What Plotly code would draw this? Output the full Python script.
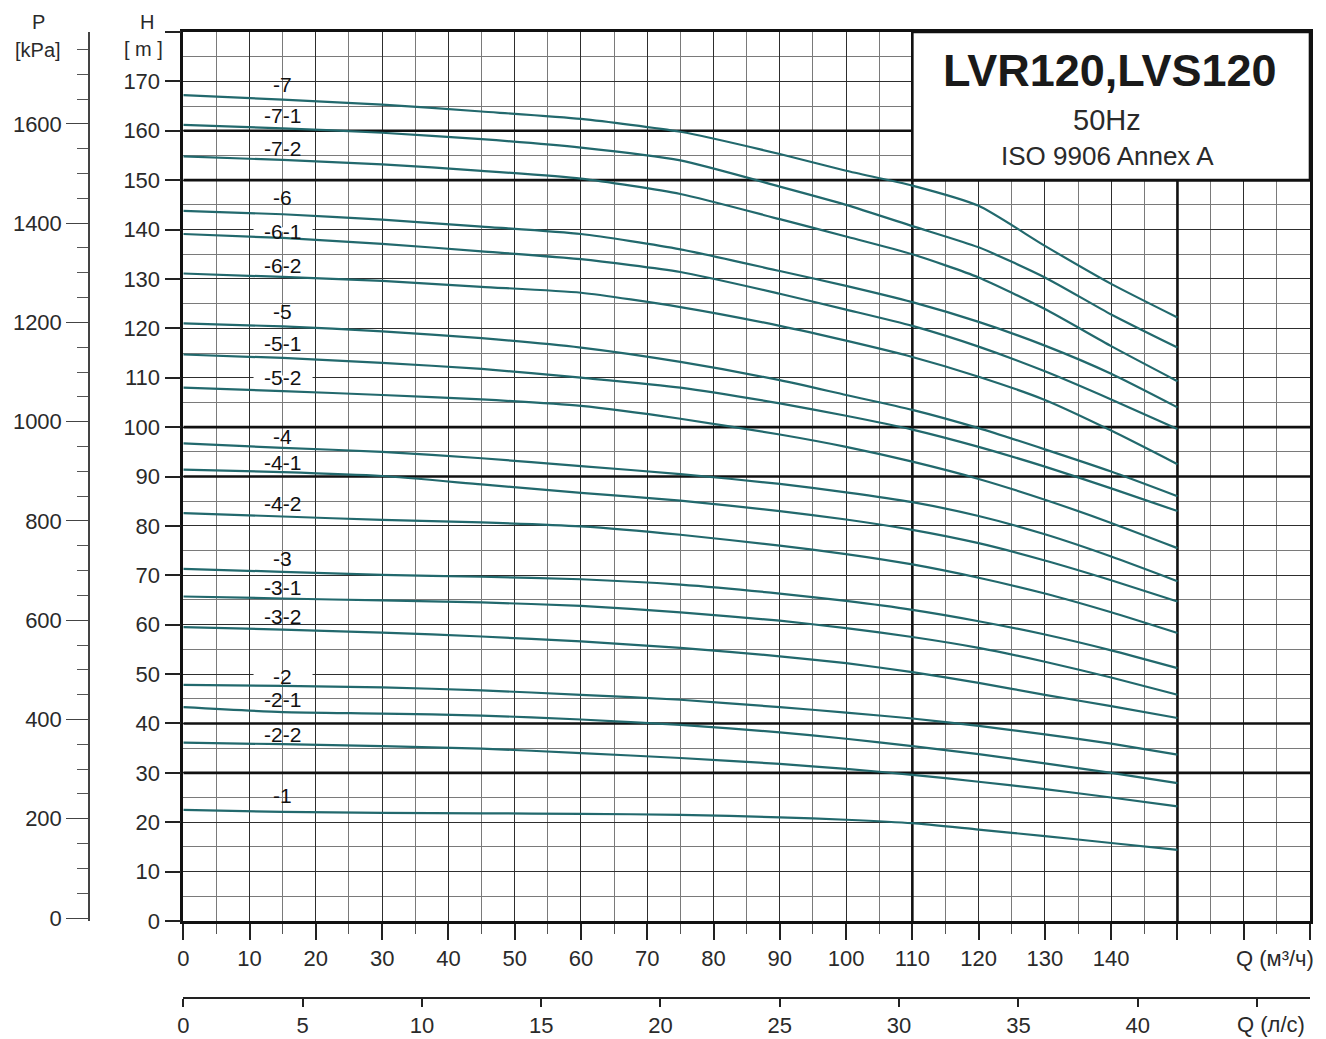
import plotly.graph_objects as go

# ---------------- data ----------------
Q = [0, 15, 30, 45, 60, 75, 90, 100, 110, 120, 130, 140, 150]  # m3/h

H_7   = [167.2, 166.3, 165.3, 163.9, 162.4, 159.8, 155.3, 151.9, 148.9, 144.8, 136.7, 129.0, 122.2]
H_7_1 = [161.2, 160.5, 159.6, 158.3, 156.6, 154.0, 148.7, 145.0, 140.7, 136.4, 130.3, 122.8, 116.1]
H_7_2 = [154.8, 154.1, 153.2, 151.9, 150.3, 147.2, 142.1, 138.6, 135.0, 130.3, 123.9, 116.4, 109.3]
H_6   = [143.8, 143.1, 142.0, 140.6, 139.1, 136.0, 131.6, 128.6, 125.3, 121.3, 116.5, 110.8, 104.0]
H_6_1 = [139.1, 138.3, 137.1, 135.6, 134.0, 131.4, 127.0, 123.8, 120.5, 116.3, 111.3, 105.6, 99.6]
H_6_2 = [131.1, 130.4, 129.6, 128.4, 127.2, 124.3, 120.5, 117.5, 114.2, 110.2, 105.5, 99.3, 92.5]
H_5   = [121.0, 120.4, 119.4, 118.0, 116.1, 113.2, 109.5, 106.5, 103.5, 99.8, 95.5, 91.0, 86.0]
H_5_1 = [114.7, 114.0, 113.0, 111.8, 110.0, 108.0, 104.8, 102.3, 99.5, 96.0, 92.0, 87.6, 83.0]
H_5_2 = [108.0, 107.3, 106.5, 105.6, 104.3, 101.7, 98.5, 96.0, 93.0, 89.5, 85.3, 80.6, 75.5]
H_4   = [96.7, 95.8, 95.0, 93.7, 92.1, 90.5, 88.5, 86.8, 84.8, 82.0, 78.3, 73.8, 68.8]
H_4_1 = [91.4, 90.9, 90.1, 88.4, 86.7, 85.1, 83.0, 81.3, 79.2, 76.5, 73.0, 69.0, 64.7]
H_4_2 = [82.6, 81.9, 81.2, 80.7, 79.9, 78.2, 76.0, 74.3, 72.2, 69.5, 66.3, 62.5, 58.3]
H_3   = [71.3, 70.7, 70.1, 69.7, 69.2, 68.1, 66.3, 64.8, 63.0, 60.7, 58.0, 54.8, 51.2]
H_3_1 = [65.7, 65.3, 64.9, 64.5, 63.8, 62.5, 60.8, 59.3, 57.5, 55.3, 52.5, 49.3, 45.8]
H_3_2 = [59.5, 59.0, 58.4, 57.6, 56.6, 55.3, 53.6, 52.2, 50.4, 48.2, 45.8, 43.5, 41.1]
H_2   = [47.8, 47.6, 47.3, 46.7, 45.8, 44.8, 43.3, 42.2, 41.0, 39.5, 37.8, 35.9, 33.7]
H_2_1 = [43.3, 42.3, 42.0, 41.6, 40.8, 39.7, 38.2, 36.9, 35.4, 33.8, 31.9, 30.0, 27.9]
H_2_2 = [36.1, 35.8, 35.4, 34.9, 34.0, 33.0, 31.8, 30.8, 29.6, 28.2, 26.7, 25.0, 23.2]
H_1   = [22.5, 22.1, 21.9, 21.8, 21.7, 21.5, 21.0, 20.5, 19.8, 18.5, 17.2, 15.8, 14.4]

curve_names = ["-7", "-7-1", "-7-2", "-6", "-6-1", "-6-2", "-5", "-5-1", "-5-2",
               "-4", "-4-1", "-4-2", "-3", "-3-1", "-3-2", "-2", "-2-1", "-2-2", "-1"]
curve_values = [H_7, H_7_1, H_7_2, H_6, H_6_1, H_6_2, H_5, H_5_1, H_5_2,
                H_4, H_4_1, H_4_2, H_3, H_3_1, H_3_2, H_2, H_2_1, H_2_2, H_1]

# curve label anchor heights (m) at Q = 15 m3/h
label_h = [169.3, 163.0, 156.5, 146.4, 139.7, 132.8, 123.5, 117.0, 110.1,
           98.1, 92.8, 84.5, 73.4, 67.5, 61.6, 49.5, 44.8, 37.7, 25.5]
label_q = 15

q_ticks = list(range(0, 171, 10))
q_labels = [str(v) if v <= 140 else "" for v in q_ticks]
ls_ticks = list(range(0, 46, 5))
ls_labels = [str(v) if v <= 40 else "" for v in ls_ticks]
h_ticks = list(range(0, 181, 10))
h_labels = [str(v) if v <= 170 else "" for v in h_ticks]
p_ticks = list(range(0, 1601, 200))
p_labels = [str(v) for v in p_ticks]

thick_h = [30, 40, 90, 100, 150, 160]
thick_q = [110, 150]

# ---------------- layout geometry ----------------
W, Hpx = 1326, 1039
ML, MR, MT, MB = 89, 16, 32, 41
plot_w = W - ML - MR
plot_h = Hpx - MT - MB
x_dom0 = (183.3 - ML) / plot_w
y_dom0 = (Hpx - MB - 921) / plot_h

def px(xp):
    return (xp - ML) / plot_w

def py(yp):
    return (Hpx - MB - yp) / plot_h

FONT = "Liberation Sans, Arial, sans-serif"
LINE_COLOR = "#22696d"
TXT = "#2a2a2a"

fig = go.Figure()

for name, vals in zip(curve_names, curve_values):
    fig.add_trace(go.Scatter(
        x=Q, y=vals, mode="lines", name=name,
        line=dict(color=LINE_COLOR, width=2.2, shape="spline", smoothing=0.6),
        showlegend=False, hoverinfo="skip"))

# dummy traces to register secondary axes
fig.add_trace(go.Scatter(x=[], y=[], xaxis="x2", yaxis="y", showlegend=False))
fig.add_trace(go.Scatter(x=[], y=[], xaxis="x", yaxis="y2", showlegend=False))

shapes = []
# grid masks behind curve labels
for hv in [140, 110, 50]:
    shapes.append(dict(type="rect", xref="x", yref="y", x0=10.6, x1=19.5,
                       y0=hv - 0.45, y1=hv + 0.45, fillcolor="white",
                       line=dict(width=0), layer="between"))
for hv in thick_h:
    shapes.append(dict(type="line", xref="x", yref="y", x0=0, x1=170, y0=hv, y1=hv,
                       line=dict(color="#111", width=2.6), layer="between"))
for qv in thick_q:
    shapes.append(dict(type="line", xref="x", yref="y", x0=qv, x1=qv, y0=0, y1=180,
                       line=dict(color="#111", width=2.6), layer="between"))
# title box
shapes.append(dict(type="rect", xref="x", yref="y", x0=110, x1=170, y0=150, y1=180,
                   fillcolor="white", line=dict(color="#111", width=2.6), layer="above"))

def ann_paper(xp, yp, text, size):
    return dict(x=px(xp), y=py(yp), xref="paper", yref="paper", text=text,
                showarrow=False, xanchor="center", yanchor="middle",
                font=dict(family=FONT, size=size, color=TXT))

annotations = []
for name, hv in zip(curve_names, label_h):
    annotations.append(dict(x=label_q, y=hv, xref="x", yref="y", text=name,
                            showarrow=False, font=dict(family=FONT, size=21, color="#111"),
                            xanchor="center", yanchor="middle"))

annotations += [
    dict(x=139.8, y=172.2, xref="x", yref="y", text="<b>LVR120,LVS120</b>", showarrow=False,
         xanchor="center", yanchor="middle",
         font=dict(family=FONT, size=45, color="#1a1a1a")),
    dict(x=139.3, y=162.2, xref="x", yref="y", text="50Hz", showarrow=False,
         xanchor="center", yanchor="middle",
         font=dict(family=FONT, size=29, color=TXT)),
    dict(x=139.5, y=154.9, xref="x", yref="y", text="ISO 9906 Annex A", showarrow=False,
         xanchor="center", yanchor="middle",
         font=dict(family=FONT, size=26, color=TXT)),
    ann_paper(1275, 958, "Q (м³/ч)", 22),
    ann_paper(1271, 1024, "Q (л/с)", 22),
    ann_paper(147, 22, "H", 20),
    ann_paper(143, 49, "[ m ]", 20),
    ann_paper(38, 22, "P", 20),
    ann_paper(38, 50, "[kPa]", 20),
]

fig.update_layout(
    width=W, height=Hpx,
    margin=dict(l=ML, r=MR, t=MT, b=MB, autoexpand=False),
    template="none",
    paper_bgcolor="white", plot_bgcolor="white",
    showlegend=False,
    font=dict(family=FONT, size=22, color=TXT),
    shapes=shapes,
    annotations=annotations,
    xaxis=dict(
        domain=[x_dom0, 1], range=[0, 170], anchor="y",
        tickmode="array", tickvals=q_ticks, ticktext=q_labels,
        ticks="outside", ticklen=16, tickwidth=1.5, tickcolor="#222",
        tickfont=dict(family=FONT, size=22, color=TXT),
        showgrid=True, gridcolor="#2e2e2e", gridwidth=1.4,
        minor=dict(tickmode="linear", tick0=0, dtick=5, ticks="outside", ticklen=10,
                   tickwidth=1.2, tickcolor="#555", showgrid=True,
                   gridcolor="#7a7a7a", gridwidth=1.2),
        showline=True, linecolor="#111", linewidth=2.6, mirror=True,
        zeroline=False, automargin=False, fixedrange=True),
    yaxis=dict(
        domain=[y_dom0, 1], range=[0, 180], anchor="x",
        tickmode="array", tickvals=h_ticks, ticktext=h_labels,
        ticks="outside", ticklen=16, tickwidth=1.5, tickcolor="#222",
        tickfont=dict(family=FONT, size=22, color=TXT),
        showgrid=True, gridcolor="#2e2e2e", gridwidth=1.4,
        minor=dict(tickmode="linear", tick0=0, dtick=5, ticks="", showgrid=True,
                   gridcolor="#7a7a7a", gridwidth=1.2),
        showline=True, linecolor="#111", linewidth=2.6, mirror=True,
        zeroline=False, automargin=False, fixedrange=True),
    xaxis2=dict(
        overlaying="x", anchor="free", position=0, side="bottom",
        range=[0, 170 / 3.6],
        tickmode="array", tickvals=ls_ticks, ticktext=ls_labels,
        ticks="outside", ticklen=8, tickwidth=2, tickcolor="#222",
        tickfont=dict(family=FONT, size=22, color=TXT),
        showgrid=False, showline=True, linecolor="#222", linewidth=2,
        zeroline=False, automargin=False, fixedrange=True),
    yaxis2=dict(
        overlaying="y", anchor="free", position=0, side="left",
        range=[-6, 1785],
        tickmode="array", tickvals=p_ticks, ticktext=p_labels,
        ticks="outside", ticklen=22, tickwidth=1.3, tickcolor="#444",
        tickfont=dict(family=FONT, size=22, color=TXT),
        minor=dict(tickmode="linear", tick0=0, dtick=50, ticks="outside", ticklen=11,
                   tickwidth=1.2, tickcolor="#555", showgrid=False),
        showgrid=False, showline=True, linecolor="#444", linewidth=1.5,
        zeroline=False, automargin=False, fixedrange=True),
)

fig.write_html("out.html",
               config={"displayModeBar": False},
               post_script="document.body.style.margin='0px';document.body.style.overflow='hidden';")
